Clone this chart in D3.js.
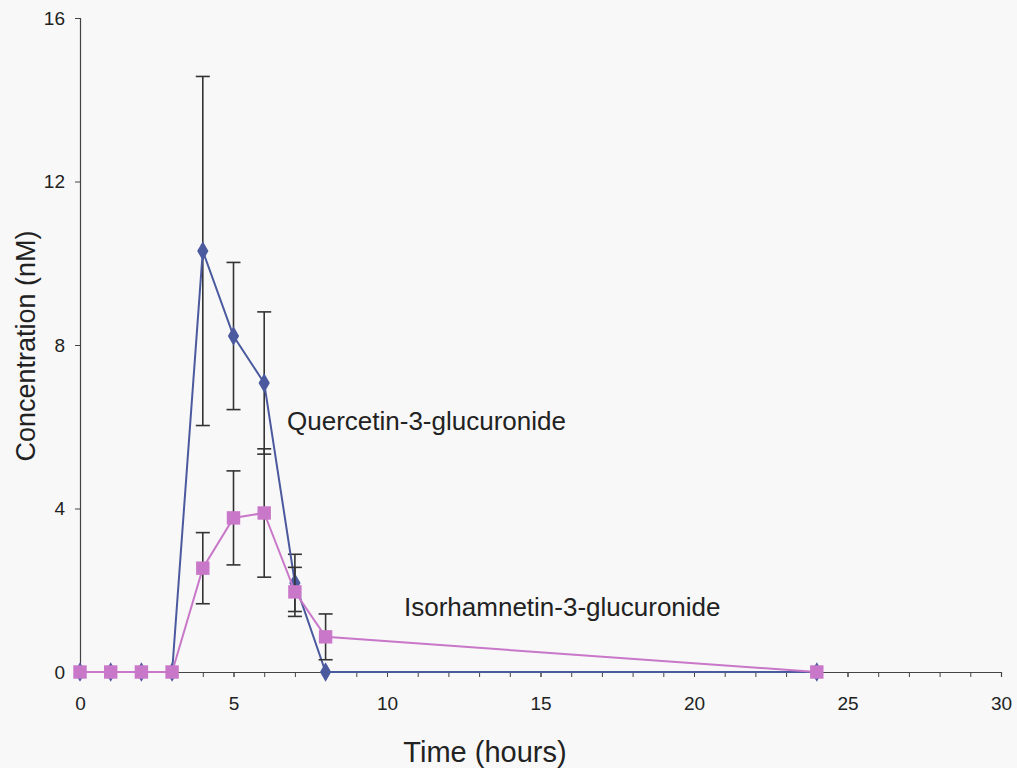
<!DOCTYPE html>
<html>
<head>
<meta charset="utf-8">
<script src="https://cdn.jsdelivr.net/npm/d3@7"></script>
<style>
  html, body { margin: 0; padding: 0; background: #f8f8f8; }
  svg { display: block; font-family: "Liberation Sans", Arial, sans-serif; }
</style>
</head>
<body>
<svg id="chart" width="1017" height="768"></svg>
<script>
// Sampling times (hours)
const times = [0, 1, 2, 3, 4, 5, 6, 7, 8, 24];

// Quercetin-3-glucuronide: mean and error (nM)
const quercetinMean = [0, 0, 0, 0, 10.3, 8.22, 7.07, 2.18, 0, 0];
const quercetinErr  = [0, 0, 0, 0, 4.27, 1.8, 1.74, 0.7, 0, 0];

// Isorhamnetin-3-glucuronide: mean and error (nM)
const isorhamnetinMean = [0, 0, 0, 0, 2.54, 3.77, 3.89, 1.96, 0.86, 0];
const isorhamnetinErr  = [0, 0, 0, 0, 0.87, 1.15, 1.57, 0.6, 0.56, 0];

const xTicks = [0, 5, 10, 15, 20, 25, 30];
const xMinorTicks = d3.range(0, 31, 1);
const yTicks = [0, 4, 8, 12, 16];

const svg = d3.select("#chart");
const margin = { left: 80, right: 16, top: 18, bottom: 96 };
const W = 1017, H = 768;

const x = d3.scaleLinear().domain([0, 30]).range([margin.left, W - margin.right]);
const y = d3.scaleLinear().domain([0, 16]).range([H - margin.bottom, margin.top]);

const axisColor = "#444";
const textColor = "#222";
const font = "'Liberation Sans', Arial, sans-serif";

// Y axis
const yAxis = svg.append("g")
  .attr("transform", `translate(${x(0)},0)`)
  .call(d3.axisLeft(y).tickValues(yTicks).tickSize(5).tickPadding(10).tickFormat(d3.format("d")));
yAxis.select(".domain").attr("stroke", axisColor).attr("stroke-width", 1.2);
yAxis.selectAll(".tick line").attr("stroke", axisColor);
yAxis.selectAll(".tick text").attr("font-size", 19).attr("fill", textColor)
  .attr("font-family", font);

// X axis: minor ticks every hour, labels every 5
const xMinor = svg.append("g")
  .attr("transform", `translate(0,${y(0)})`)
  .call(d3.axisBottom(x).tickValues(xMinorTicks).tickSize(5).tickFormat(""));
xMinor.select(".domain").attr("stroke", axisColor).attr("stroke-width", 1.2);
xMinor.selectAll(".tick line").attr("stroke", axisColor);

const xAxis = svg.append("g")
  .attr("transform", `translate(0,${y(0)})`)
  .call(d3.axisBottom(x).tickValues(xTicks).tickSize(5).tickPadding(20).tickFormat(d3.format("d")));
xAxis.select(".domain").remove();
xAxis.selectAll(".tick line").attr("stroke", axisColor);
xAxis.selectAll(".tick text").attr("font-size", 19).attr("fill", textColor)
  .attr("font-family", font);

// Axis titles
svg.append("text")
  .attr("x", 485).attr("y", 762)
  .attr("text-anchor", "middle")
  .attr("font-size", 29).attr("fill", textColor)
  .text("Time (hours)");

svg.append("text")
  .attr("transform", `translate(35,346) rotate(-90)`)
  .attr("text-anchor", "middle")
  .attr("font-size", 27).attr("fill", textColor)
  .text("Concentration (nM)");

function series(mean, err, color, shape, size) {
  const pts = times.map((t, i) => ({ t, m: mean[i], e: err[i] }));
  const g = svg.append("g");

  // Error bars
  const eb = g.selectAll(".err").data(pts.filter(d => d.e > 0)).enter().append("g");
  eb.append("line")
    .attr("x1", d => x(d.t)).attr("x2", d => x(d.t))
    .attr("y1", d => y(d.m + d.e)).attr("y2", d => y(d.m - d.e))
    .attr("stroke", "#333").attr("stroke-width", 1.6);
  [1, -1].forEach(s => {
    eb.append("line")
      .attr("x1", d => x(d.t) - 7).attr("x2", d => x(d.t) + 7)
      .attr("y1", d => y(d.m + s * d.e)).attr("y2", d => y(d.m + s * d.e))
      .attr("stroke", "#333").attr("stroke-width", 1.6);
  });

  // Line
  g.append("path")
    .datum(pts)
    .attr("fill", "none")
    .attr("stroke", color)
    .attr("stroke-width", 2)
    .attr("d", d3.line().x(d => x(d.t)).y(d => y(d.m)));

  // Markers
  g.selectAll(".pt").data(pts).enter().append("path")
    .attr("transform", d => `translate(${x(d.t)},${y(d.m)})`)
    .attr("d", d3.symbol().type(shape).size(size))
    .attr("fill", color);
}

const blue = "#4b5a9e";
const pink = "#c977c9";

series(quercetinMean, quercetinErr, blue, d3.symbolDiamond, 110);
series(isorhamnetinMean, isorhamnetinErr, pink, d3.symbolSquare, 180);

// Series labels
svg.append("text")
  .attr("x", 287).attr("y", 430)
  .attr("font-size", 26).attr("fill", textColor)
  .text("Quercetin-3-glucuronide");

svg.append("text")
  .attr("x", 404).attr("y", 616)
  .attr("font-size", 26).attr("fill", textColor)
  .text("Isorhamnetin-3-glucuronide");
</script>
</body>
</html>
